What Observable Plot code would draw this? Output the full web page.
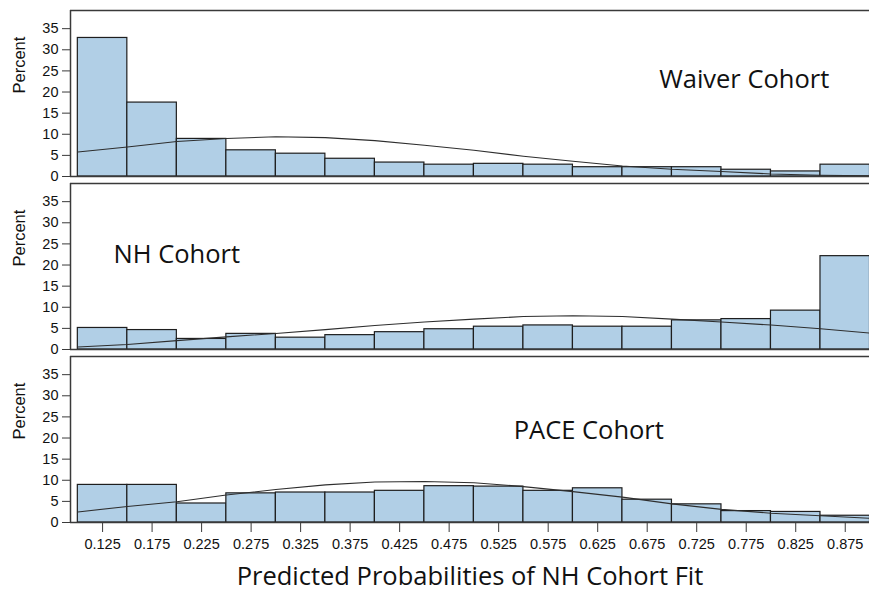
<!DOCTYPE html>
<html>
<head>
<meta charset="utf-8">
<script src="https://cdn.jsdelivr.net/npm/d3@7"></script>
<script src="https://cdn.jsdelivr.net/npm/@observablehq/plot@0.6"></script>
<style>
  html, body { margin: 0; padding: 0; background: #fff; }
  #chart svg { display: block; }
</style>
</head>
<body>
<div id="chart"></div>
<script>
// ---- data ----
const cohorts = ["Waiver", "NH", "PACE"];
const cohortLabels = ["Waiver Cohort", "NH Cohort", "PACE Cohort"];
const binCenters = [0.125, 0.175, 0.225, 0.275, 0.325, 0.375, 0.425, 0.475, 0.525, 0.575, 0.625, 0.675, 0.725, 0.775, 0.825, 0.875];
const waiverPct = [32.8, 17.5, 8.9, 6.2, 5.4, 4.2, 3.3, 2.8, 3.0, 2.8, 2.2, 2.2, 2.2, 1.6, 1.2, 2.8];
const nhPct     = [5.1, 4.6, 2.5, 3.7, 2.8, 3.4, 4.1, 4.8, 5.4, 5.7, 5.4, 5.4, 6.9, 7.2, 9.2, 22.1];
const pacePct   = [8.9, 8.9, 4.5, 6.9, 7.1, 7.1, 7.5, 8.6, 8.5, 7.5, 8.1, 5.4, 4.3, 2.7, 2.5, 1.6];
const curveX      = [0.10, 0.15, 0.20, 0.25, 0.30, 0.35, 0.40, 0.45, 0.50, 0.55, 0.60, 0.65, 0.70, 0.75, 0.80, 0.85, 0.90];
const waiverCurve = [5.8, 7.0, 8.3, 9.0, 9.4, 9.2, 8.5, 7.4, 6.2, 4.8, 3.6, 2.5, 1.7, 1.2, 0.6, 0.3, 0.15];
const nhCurve     = [0.6, 1.2, 2.1, 3.0, 3.8, 4.7, 5.7, 6.5, 7.2, 7.8, 8.0, 7.8, 7.2, 6.5, 5.8, 4.9, 3.9];
const paceCurve   = [2.5, 3.8, 4.9, 6.5, 7.8, 8.9, 9.6, 9.7, 9.4, 8.5, 7.3, 6.0, 4.4, 3.1, 2.2, 1.6, 1.0];
const labelX = [0.773, 0.20, 0.616];
const labelY = [23, 22.5, 21.8];
const yTicks = [0, 5, 10, 15, 20, 25, 30, 35];
const xTickLabels = ["0.125","0.175","0.225","0.275","0.325","0.375","0.425","0.475","0.525","0.575","0.625","0.675","0.725","0.775","0.825","0.875"];
const binWidth = 0.05;

// ---- build tables ----
const pctSeries = [waiverPct, nhPct, pacePct];
const curveSeries = [waiverCurve, nhCurve, paceCurve];
const bars = [];
cohorts.forEach((c, i) => binCenters.forEach((b, j) => bars.push({cohort: c, x1: b - binWidth/2, x2: b + binWidth/2, pct: pctSeries[i][j]})));
const curves = [];
cohorts.forEach((c, i) => curveX.forEach((x, j) => curves.push({cohort: c, x, y: curveSeries[i][j]})));
const labels = cohorts.map((c, i) => ({cohort: c, text: cohortLabels[i], x: labelX[i], y: labelY[i]}));

const xDomain = [0.0926, 0.8995];
const yTop = 39.3;
const lineColor = "#3a3a3a";

const chart = Plot.plot({
  width: 869,
  height: 591,
  marginLeft: 70,
  marginRight: 0,
  marginTop: 9,
  marginBottom: 68,
  style: {fontFamily: "'Liberation Sans', Arial, sans-serif", fontSize: "14px", color: "#111", background: "#fff"},
  x: {domain: xDomain},
  y: {domain: [0, yTop]},
  fy: {domain: cohorts, axis: null, paddingInner: 0.042, paddingOuter: 0},
  marks: [
    Plot.rectY(bars, {x1: "x1", x2: "x2", y: "pct", fy: "cohort", fill: "#b1cfe6", stroke: "#1e1e1e", strokeWidth: 1.2, clip: true}),
    Plot.line(curves, {x: "x", y: "y", fy: "cohort", stroke: "#2e2e2e", strokeWidth: 1.1, clip: true}),
    Plot.ruleY([yTop], {stroke: lineColor, strokeWidth: 1.5}),
    Plot.ruleX([xDomain[0]], {stroke: lineColor, strokeWidth: 1.5}),
    Plot.ruleY([0], {stroke: lineColor, strokeWidth: 1.5}),
    Plot.axisY({ticks: yTicks, tickSize: 8, tickPadding: 4, label: null, fontSize: 14.5, stroke: lineColor}),
    Plot.axisX({ticks: binCenters, tickFormat: (d, i) => xTickLabels[i], tickSize: 10, tickPadding: 6, label: null, fontSize: 14.5, stroke: lineColor}),
    Plot.text(cohorts, {fy: d => d, text: () => "Percent", frameAnchor: "left", rotate: -90, dx: -51, fontSize: 16.5}),
    Plot.text(labels, {x: "x", y: "y", fy: "cohort", text: "text", fontFamily: "'Open Sans', sans-serif", fontSize: 25.5, fill: "#111"}),
    Plot.text(["PACE"], {fy: d => d, text: () => "Predicted Probabilities of NH Cohort Fit", frameAnchor: "bottom", dy: 62, fontFamily: "'Open Sans', sans-serif", fontSize: 25.5, fill: "#111"})
  ]
});
document.getElementById("chart").appendChild(chart);
</script>
</body>
</html>
